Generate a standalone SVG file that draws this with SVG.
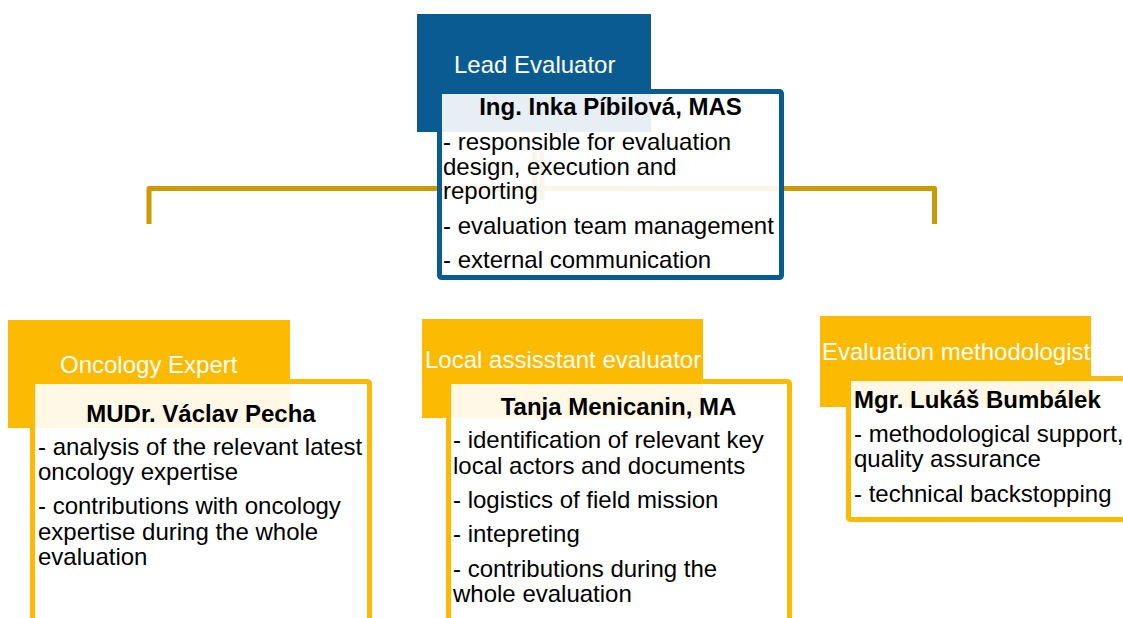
<svg xmlns="http://www.w3.org/2000/svg" width="1123" height="618" viewBox="0 0 1123 618">
  <style>
    text { font-family: "Liberation Sans", Arial, sans-serif; font-size: 24px; fill: #000; }
    .role { fill: #fff; }
    .name { font-weight: bold; }
    .mid { text-anchor: middle; }
    .hdr-blue { fill: #0B5B93; }
    .hdr-gold { fill: #FCBA00; }
    .card { fill: #fff; fill-opacity: 0.9; stroke-width: 5; stroke-linejoin: round; }
    .card-blue { stroke: #0B5B93; }
    .card-gold { stroke: #FCBA00; }
    .conn { fill: none; stroke: #CC9A06; stroke-width: 5; stroke-linejoin: round; }
  </style>

  <!-- connectors: branch bar from the lead down to the team -->
  <g id="connectors">
    <path class="conn" d="M149 224 V188.5 H934.5 V224"/>
    <path class="conn" d="M534.5 152 V200" stroke-width="3"/>
    <path class="conn" d="M542 152 V200" stroke-width="5"/>
  </g>

  <!-- lead evaluator -->
  <g id="lead-evaluator">
    <rect class="hdr-blue" x="417" y="14" width="234" height="118"/>
    <text class="role" x="454" y="73">Lead Evaluator</text>
    <rect class="card card-blue" x="439.5" y="91.5" width="342" height="186" rx="2"/>
    <text class="name mid" x="610.5" y="115">Ing. Inka Píbilová, MAS</text>
    <text x="443" y="150">- responsible for evaluation</text>
    <text x="443" y="175">design, execution and</text>
    <text x="443" y="199">reporting</text>
    <text x="443" y="234">- evaluation team management</text>
    <text x="443" y="268">- external communication</text>
  </g>

  <!-- oncology expert -->
  <g id="oncology-expert">
    <rect class="hdr-gold" x="8" y="320" width="282" height="108"/>
    <text class="role" x="60" y="373">Oncology Expert</text>
    <rect class="card card-gold" x="32.5" y="381.5" width="337" height="260" rx="2"/>
    <text class="name mid" x="201" y="422">MUDr. Václav Pecha</text>
    <text x="38" y="455">- analysis of the relevant latest</text>
    <text x="38" y="480">oncology expertise</text>
    <text x="38" y="514">- contributions with oncology</text>
    <text x="38" y="540">expertise during the whole</text>
    <text x="38" y="565">evaluation</text>
  </g>

  <!-- local assistant evaluator -->
  <g id="local-assistant">
    <rect class="hdr-gold" x="422" y="319" width="281" height="99"/>
    <text class="role" x="425" y="368">Local assisstant evaluator</text>
    <rect class="card card-gold" x="448.5" y="381.5" width="341" height="260" rx="2"/>
    <text class="name mid" x="618.5" y="415">Tanja Menicanin, MA</text>
    <text x="453" y="448">- identification of relevant key</text>
    <text x="453" y="474">local actors and documents</text>
    <text x="453" y="508">- logistics of field mission</text>
    <text x="453" y="542">- intepreting</text>
    <text x="453" y="577">- contributions during the</text>
    <text x="453" y="602">whole evaluation</text>
  </g>

  <!-- evaluation methodologist -->
  <g id="methodologist">
    <rect class="hdr-gold" x="820" y="316" width="271" height="91"/>
    <text class="role" x="822" y="360">Evaluation methodologist</text>
    <rect class="card card-gold" x="848.5" y="378.5" width="290" height="141" rx="2"/>
    <text class="name" x="854" y="408">Mgr. Lukáš Bumbálek</text>
    <text x="854" y="442">- methodological support,</text>
    <text x="854" y="467">quality assurance</text>
    <text x="854" y="502">- technical backstopping</text>
  </g>
</svg>
